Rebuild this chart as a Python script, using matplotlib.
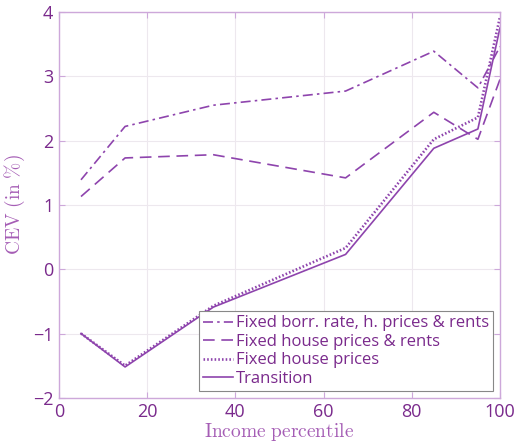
import matplotlib.pyplot as plt

# income percentiles and CEV (in %) for each scenario
percentiles = [5, 15, 35, 65, 85, 95, 100]
fixed_borr_prices_rents = [1.39, 2.22, 2.55, 2.77, 3.39, 2.82, 3.46]
fixed_prices_rents = [1.13, 1.73, 1.78, 1.42, 2.44, 2.02, 2.95]
fixed_prices = [-1.0, -1.5, -0.57, 0.33, 2.02, 2.36, 3.92]
transition = [-1.0, -1.52, -0.59, 0.23, 1.88, 2.18, 3.75]

series_labels = [
    "Fixed borr. rate, h. prices & rents",
    "Fixed house prices & rents",
    "Fixed house prices",
    "Transition",
]

line_col = "#8E44AD"
text_col = "#7A2A8C"
label_col = "#A55DB5"
spine_col = "#CDA8DA"

plt.rcParams["font.family"] = ["Open Sans", "DejaVu Sans"]
plt.rcParams["mathtext.fontset"] = "cm"

fig = plt.figure(figsize=(5.17, 4.43), dpi=100)
ax = fig.add_axes([0.114, 0.102, 0.853, 0.871])

ax.plot(percentiles, fixed_borr_prices_rents, color=line_col, lw=1.2,
        dashes=[6, 2.5, 1.5, 2.5], label=series_labels[0])
ax.plot(percentiles, fixed_prices_rents, color=line_col, lw=1.2,
        dashes=[7, 4], label=series_labels[1])
ax.plot(percentiles, fixed_prices, color=line_col, lw=1.9,
        linestyle=(0, (0.6, 0.8)), label=series_labels[2])
ax.plot(percentiles, transition, color=line_col, lw=1.2,
        linestyle="-", label=series_labels[3])

ax.set_xlim(0, 100)
ax.set_ylim(-2, 4)
ax.set_xticks([0, 20, 40, 60, 80, 100])
ax.set_yticks([-2, -1, 0, 1, 2, 3, 4])
ax.grid(True, color="#EDE8EE", lw=0.8)
ax.set_axisbelow(True)

for s in ax.spines.values():
    s.set_color(spine_col)
    s.set_linewidth(1.0)
ax.tick_params(direction="in", length=4, color=spine_col, labelcolor=text_col,
               labelsize=13, top=True, right=True, pad=4)
ax.set_yticklabels(["\u22122", "\u22121", "0", "1", "2", "3", "4"])

ax.set_xlabel(r"$\mathrm{Income\ percentile}$", fontsize=14, color=label_col,
              labelpad=0)
ax.set_ylabel(r"$\mathrm{CEV\ (in\ \%)}$", fontsize=14, color=label_col,
              labelpad=4)

leg = ax.legend(loc="lower right", fontsize=12, handlelength=1.8,
                handletextpad=0.15, labelspacing=0.15, borderpad=0.25,
                borderaxespad=0.4, fancybox=False, framealpha=1)
leg.get_frame().set_edgecolor("#888888")
leg.get_frame().set_linewidth(0.8)
for t in leg.get_texts():
    t.set_color(text_col)

fig.savefig("out.png", dpi=100)
